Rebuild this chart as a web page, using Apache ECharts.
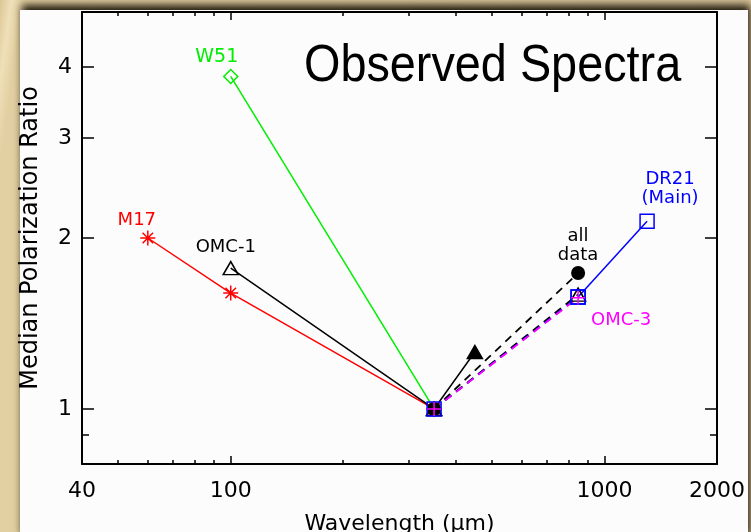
<!DOCTYPE html>
<html>
<head>
<meta charset="utf-8">
<title>Observed Spectra</title>
<script src="https://cdn.jsdelivr.net/npm/echarts@6/dist/echarts.min.js"></script>
<style>
  html, body { margin: 0; padding: 0; background: #e6d4a8; }
  #chart { width: 751px; height: 532px; }
</style>
</head>
<body>
<div id="chart"></div>
<script>
// Wavelengths (micron) and median polarization ratios, normalised at 350 micron
const w51Wave = [100, 350];
const w51Ratio = [3.85, 1.0];

const m17Wave = [60, 100, 350];
const m17Ratio = [2.0, 1.6, 1.0];

const omc1Wave = [100, 350, 450];
const omc1Ratio = [1.77, 1.0, 1.26];
const omc1LongWave = [350, 850];
const omc1LongRatio = [1.0, 1.59];

const allWave = [350, 850];
const allRatio = [1.0, 1.735];

const dr21ShortWave = [350, 850];
const dr21ShortRatio = [1.0, 1.575];
const dr21LongWave = [850, 1300];
const dr21LongRatio = [1.575, 2.14];

const omc3Wave = [350, 850];
const omc3Ratio = [1.0, 1.57];

// Axis ticks and labels
const xLabelValues = [40, 100, 1000, 2000];
const xMajorTicks = [100, 1000];
const xMinorTicks = [50, 60, 70, 80, 90, 200, 300, 400, 500, 600, 700, 800, 900];
const yLabelValues = [1, 2, 3, 4];
const yMajorTicks = [1, 2, 3, 4];
const yMinorTicks = [0.9];

const FONT = 'DejaVu Sans';

function pts(xs, ys) {
  return xs.map((x, i) => [x, ys[i]]);
}

// attach a text label to one point of a series
function tag(data, index, text, color, offset, size) {
  data[index] = {
    value: data[index],
    label: {
      show: true, position: 'inside', formatter: text, offset: offset,
      color: color, fontFamily: FONT, fontSize: size || 18, lineHeight: 19, align: 'center'
    }
  };
  return data;
}

const asterisk = 'path://M0,-10L0,10M-10,0L10,0M-7,-7L7,7M-7,7L7,-7';
const plus = 'path://M0,-10L0,10M-10,0L10,0';

const chart = echarts.init(document.getElementById('chart'), null, { renderer: 'canvas' });

const xBase = { type: 'log', logBase: 10, min: 40, max: 2000, gridIndex: 0, splitLine: { show: false } };
const yBase = { type: 'log', logBase: 10, min: 0.8, max: 5, gridIndex: 0, splitLine: { show: false } };
const frameLine = { show: true, onZero: false, lineStyle: { color: '#000', width: 2 } };
const noLine = { show: false };
const tickLabel = { fontFamily: FONT, fontSize: 22, color: '#000', formatter: (v) => String(v) };

const omc1Data = pts(omc1Wave, omc1Ratio);
omc1Data[2] = { value: omc1Data[2], itemStyle: { color: '#000' } };
tag(omc1Data, 0, 'OMC-1', '#000', [-5, -21], 18);

const option = {
  animation: false,
  backgroundColor: '#e6d4a8',
  graphic: [
    {
      type: 'rect', z: -20, silent: true,
      shape: { x: 0, y: 0, width: 751, height: 532 },
      style: {
        fill: {
          type: 'linear', x: 0, y: 0, x2: 1, y2: 0.2,
          colorStops: [
            { offset: 0, color: '#dcc695' },
            { offset: 0.015, color: '#efe0b9' },
            { offset: 0.03, color: '#e3d0a2' },
            { offset: 1, color: '#d8c59a' }
          ]
        }
      }
    },
    {
      type: 'rect', z: -10, silent: true,
      shape: { x: 20, y: 10, width: 728, height: 530 },
      style: {
        fill: '#fcfcfc',
        shadowBlur: 8, shadowOffsetX: 2, shadowOffsetY: -5,
        shadowColor: 'rgba(30, 22, 10, 1)'
      }
    },
    {
      type: 'text', z: 10, silent: true,
      x: 304, y: 67, scaleX: 0.9,
      style: {
        text: 'Observed Spectra', x: 0, y: 0,
        font: '52px "Liberation Sans", Arial, sans-serif',
        fill: '#000', textAlign: 'left', textVerticalAlign: 'middle'
      }
    }
  ],
  grid: { left: 82, right: 34, top: 12, bottom: 68, containLabel: false, outerBoundsMode: 'none' },
  xAxis: [
    Object.assign({}, xBase, {
      position: 'bottom',
      axisLine: frameLine,
      axisTick: { show: true, inside: true, length: 8, customValues: xMajorTicks, lineStyle: { color: '#000', width: 1.5 } },
      axisLabel: Object.assign({ show: true, margin: 16, customValues: xLabelValues }, tickLabel),
      name: 'Wavelength (μm)', nameLocation: 'middle', nameGap: 49,
      nameTextStyle: { fontFamily: FONT, fontSize: 22, color: '#000' }
    }),
    Object.assign({}, xBase, {
      position: 'bottom', axisLine: noLine,
      axisTick: { show: true, inside: true, length: 4, customValues: xMinorTicks, lineStyle: { color: '#000', width: 1.5 } },
      axisLabel: { show: false }
    }),
    Object.assign({}, xBase, {
      position: 'top', axisLine: frameLine,
      axisTick: { show: true, inside: true, length: 8, customValues: xMajorTicks, lineStyle: { color: '#000', width: 1.5 } },
      axisLabel: { show: false }
    }),
    Object.assign({}, xBase, {
      position: 'top', axisLine: noLine,
      axisTick: { show: true, inside: true, length: 4, customValues: xMinorTicks, lineStyle: { color: '#000', width: 1.5 } },
      axisLabel: { show: false }
    })
  ],
  yAxis: [
    Object.assign({}, yBase, {
      position: 'left',
      axisLine: frameLine,
      axisTick: { show: true, inside: true, length: 12, customValues: yMajorTicks, lineStyle: { color: '#000', width: 1.5 } },
      axisLabel: Object.assign({ show: true, margin: 10, customValues: yLabelValues }, tickLabel),
      name: 'Median Polarization Ratio', nameLocation: 'middle', nameGap: 39,
      nameTextStyle: { fontFamily: FONT, fontSize: 24, color: '#000' }
    }),
    Object.assign({}, yBase, {
      position: 'left', axisLine: noLine,
      axisTick: { show: true, inside: true, length: 7, customValues: yMinorTicks, lineStyle: { color: '#000', width: 1.5 } },
      axisLabel: { show: false }
    }),
    Object.assign({}, yBase, {
      position: 'right', axisLine: frameLine,
      axisTick: { show: true, inside: true, length: 12, customValues: yMajorTicks, lineStyle: { color: '#000', width: 1.5 } },
      axisLabel: { show: false }
    }),
    Object.assign({}, yBase, {
      position: 'right', axisLine: noLine,
      axisTick: { show: true, inside: true, length: 7, customValues: yMinorTicks, lineStyle: { color: '#000', width: 1.5 } },
      axisLabel: { show: false }
    })
  ],
  series: [
    {
      name: 'W51', type: 'line', xAxisIndex: 0, yAxisIndex: 0,
      data: tag(pts(w51Wave, w51Ratio), 0, 'W51', '#00ee00', [-14, -19], 19),
      symbol: 'diamond', symbolSize: 14,
      lineStyle: { color: '#00ee00', width: 1.5 },
      itemStyle: { color: 'rgba(0,0,0,0)', borderColor: '#00ee00', borderWidth: 1.5 }
    },
    {
      name: 'M17', type: 'line', xAxisIndex: 0, yAxisIndex: 0,
      data: tag(pts(m17Wave, m17Ratio), 0, 'M17', '#ff0000', [-11, -18], 18),
      symbol: asterisk, symbolSize: 15,
      lineStyle: { color: '#ff0000', width: 1.5 },
      itemStyle: { color: 'rgba(0,0,0,0)', borderColor: '#ff0000', borderWidth: 1.5 }
    },
    {
      name: 'OMC-1', type: 'line', xAxisIndex: 0, yAxisIndex: 0,
      data: omc1Data,
      symbol: 'triangle', symbolSize: [15, 13],
      lineStyle: { color: '#000', width: 1.5 },
      itemStyle: { color: 'rgba(0,0,0,0)', borderColor: '#000', borderWidth: 1.5 }
    },
    {
      name: 'OMC-1 long', type: 'line', xAxisIndex: 0, yAxisIndex: 0,
      data: pts(omc1LongWave, omc1LongRatio),
      symbol: 'triangle', symbolSize: [15, 13],
      lineStyle: { color: '#000', width: 1.8, type: [8, 6] },
      itemStyle: { color: 'rgba(0,0,0,0)', borderColor: '#000', borderWidth: 1.5 }
    },
    {
      name: 'all data', type: 'line', xAxisIndex: 0, yAxisIndex: 0,
      data: tag(pts(allWave, allRatio), 1, 'all\ndata', '#000', [0, -27], 18),
      symbol: 'circle', symbolSize: 14,
      lineStyle: { color: '#000', width: 1.8, type: [8, 6] },
      itemStyle: { color: '#000' }
    },
    {
      name: 'DR21 short', type: 'line', xAxisIndex: 0, yAxisIndex: 0,
      data: pts(dr21ShortWave, dr21ShortRatio),
      symbol: 'rect', symbolSize: 14,
      lineStyle: { color: '#0000ff', width: 1.8, type: [8, 6] },
      itemStyle: { color: 'rgba(0,0,0,0)', borderColor: '#0000ff', borderWidth: 1.5 }
    },
    {
      name: 'DR21 (Main)', type: 'line', xAxisIndex: 0, yAxisIndex: 0,
      data: tag(pts(dr21LongWave, dr21LongRatio), 1, 'DR21\n(Main)', '#0000ff', [23, -32], 18),
      symbol: 'rect', symbolSize: 14,
      lineStyle: { color: '#0000ff', width: 1.5 },
      itemStyle: { color: 'rgba(0,0,0,0)', borderColor: '#0000ff', borderWidth: 1.5 }
    },
    {
      name: 'OMC-3', type: 'line', xAxisIndex: 0, yAxisIndex: 0,
      data: tag(pts(omc3Wave, omc3Ratio), 1, 'OMC-3', '#ff00ff', [43, 23], 18),
      symbol: plus, symbolSize: 14,
      lineStyle: { color: '#ff00ff', width: 1.8, type: [8, 6] },
      itemStyle: { color: 'rgba(0,0,0,0)', borderColor: '#ff00ff', borderWidth: 1.5 }
    }
  ]
};

chart.setOption(option);
</script>
</body>
</html>
